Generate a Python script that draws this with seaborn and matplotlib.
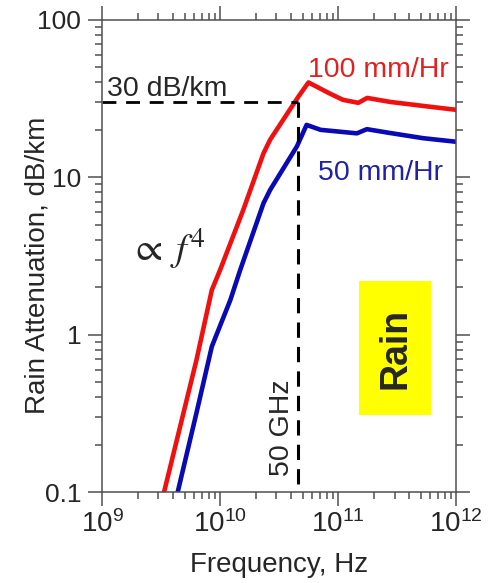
import numpy as np
import pandas as pd
import matplotlib.pyplot as plt
import matplotlib.ticker as mticker
from matplotlib.patches import Rectangle
import seaborn as sns
sns.set_theme(style='ticks')
plt.rcParams['font.family'] = ['Liberation Sans', 'DejaVu Sans']

# curves (frequency in Hz, attenuation in dB/km)
freq_100 = [3.35e9, 6.3e9, 8.5e9, 1.0e10, 1.57e10, 2.33e10, 2.65e10, 4.6e10,
            5.6e10, 8.5e10, 1.1e11, 1.48e11, 1.76e11, 2.75e11, 5.2e11, 1.0e12]
att_100 = [0.1, 0.69, 1.92, 2.58, 6.2, 14.2, 17.3, 32.5,
           40.0, 34.0, 31.0, 29.7, 31.9, 30.1, 28.4, 26.8]
freq_50 = [4.37e9, 6.3e9, 8.5e9, 1.22e10, 1.48e10, 2.33e10, 2.65e10,
           4.47e10, 5.4e10, 7.1e10, 1.44e11, 1.75e11, 2.75e11, 5.25e11, 1.0e12]
att_50 = [0.1, 0.318, 0.84, 1.66, 2.58, 6.84, 8.3,
          15.7, 21.5, 20.0, 19.0, 20.2, 19.1, 17.7, 16.8]
rate_labels = ['100 mm/Hr', '50 mm/Hr']

ref_att = 30        # dB/km
ref_freq = 4.6e10   # 50 GHz marker

df = pd.DataFrame({
    'Frequency': freq_100 + freq_50,
    'Attenuation': att_100 + att_50,
    'Rate': [rate_labels[0]] * len(freq_100) + [rate_labels[1]] * len(freq_50),
})

fig, ax = plt.subplots(figsize=(5.03, 5.83), dpi=100)
fig.subplots_adjust(left=0.203, right=0.907, bottom=0.156, top=0.966)

sns.lineplot(data=df, x='Frequency', y='Attenuation', hue='Rate',
             palette={rate_labels[0]: '#f01010', rate_labels[1]: '#0a0ab4'},
             estimator=None, sort=False, lw=3.3, legend=False, ax=ax)

ax.set_xscale('log')
ax.set_yscale('log')
ax.set_xlim(1e9, 1e12)
ax.set_ylim(0.1, 100)

# dashed guide lines
ax.plot([1e9, ref_freq], [ref_att, ref_att], color='black', lw=2, ls=(0, (5, 3.5)))
ax.plot([ref_freq, ref_freq], [ref_att, 0.11], color='black', lw=2.2, ls=(0, (5, 3)))

# ticks
ax.yaxis.set_major_locator(mticker.FixedLocator([0.1, 1, 10, 100]))
ax.yaxis.set_major_formatter(mticker.FuncFormatter(lambda v, p: '%g' % v))
ax.yaxis.set_minor_locator(mticker.LogLocator(base=10, subs=np.arange(2, 10)))
ax.yaxis.set_minor_formatter(mticker.NullFormatter())
ax.xaxis.set_major_locator(mticker.LogLocator(base=10, numticks=10))
ax.xaxis.set_minor_locator(mticker.LogLocator(base=10, subs=np.arange(2, 10), numticks=20))
ax.xaxis.set_minor_formatter(mticker.NullFormatter())

ax.tick_params(which='both', direction='out', top=True, right=True,
               color='#505050', width=1.1)
ax.tick_params(which='major', length=10)
ax.tick_params(which='minor', length=5)
ax.tick_params(axis='y', which='major', labelsize=19, pad=5)
ax.tick_params(axis='x', which='major', labelsize=20, pad=3)
for s in ax.spines.values():
    s.set_color('#505050')
    s.set_linewidth(1.1)

ax.set_xlabel('Frequency, Hz', fontsize=20)
ax.set_ylabel('Rain Attenuation, dB/km', fontsize=20)
ax.xaxis.set_label_coords(0.5, -0.128)
ax.yaxis.set_label_coords(-0.147, 0.48)

# annotations
ax.text(1.1e9, 32.9, '30 dB/km', fontsize=20.5, va='baseline', ha='left')
ax.text(8.7e11, 43.5, '100 mm/Hr', fontsize=20.5, color='#e32020',
        va='baseline', ha='right')
ax.text(7.8e11, 9.6, '50 mm/Hr', fontsize=20.5, color='#2020a8',
        va='baseline', ha='right')
ax.text(3.6e9, 3.5, r'$\propto\;f^4$', fontsize=28, math_fontfamily='stix',
        ha='center', va='center')
ax.text(3.35e10, 0.255, '50 GHz', fontsize=20.5, rotation=90,
        ha='center', va='center')

ax.add_patch(Rectangle((0.726, 0.163), 0.203, 0.284, transform=ax.transAxes,
                       facecolor='#ffff00', edgecolor='none', zorder=1))
ax.text(0.828, 0.305, 'Rain', transform=ax.transAxes, fontsize=27,
        fontweight='bold', rotation=90, ha='center', va='center', zorder=2)

plt.savefig('out.png', dpi=100)
